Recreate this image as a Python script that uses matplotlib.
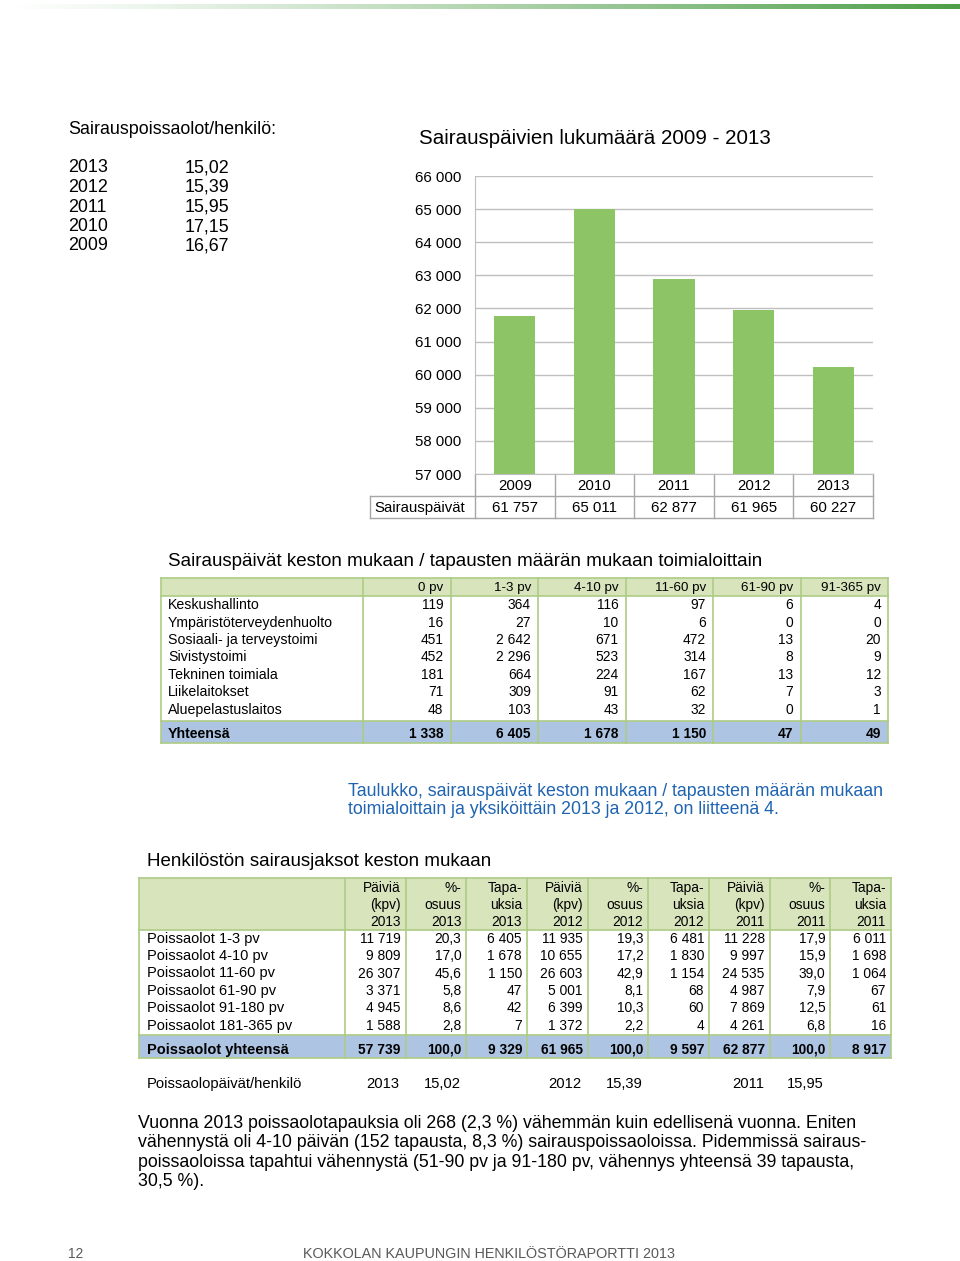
import numpy as np
import matplotlib
matplotlib.use('Agg')
import matplotlib.pyplot as plt
from matplotlib import font_manager
from matplotlib.patches import Rectangle

# ---------------- data ----------------
pp_years = ['2013', '2012', '2011', '2010', '2009']
pp_values = ['15,02', '15,39', '15,95', '17,15', '16,67']

chart_years = ['2009', '2010', '2011', '2012', '2013']
sick_days = [61757, 65011, 62877, 61965, 60227]
y_ticks = [57000, 58000, 59000, 60000, 61000, 62000, 63000, 64000, 65000, 66000]

t1_columns = ['0 pv', '1-3 pv', '4-10 pv', '11-60 pv', '61-90 pv', '91-365 pv']
t1_units = ['Keskushallinto', 'Ympäristöterveydenhuolto', 'Sosiaali- ja terveystoimi',
            'Sivistystoimi', 'Tekninen toimiala', 'Liikelaitokset', 'Aluepelastuslaitos']
t1_values = [[119, 364, 116, 97, 6, 4],
             [16, 27, 10, 6, 0, 0],
             [451, 2642, 671, 472, 13, 20],
             [452, 2296, 523, 314, 8, 9],
             [181, 664, 224, 167, 13, 12],
             [71, 309, 91, 62, 7, 3],
             [48, 103, 43, 32, 0, 1]]
t1_total_label = 'Yhteensä'
t1_total = [1338, 6405, 1678, 1150, 47, 49]

t2_columns = ['Päiviä\n(kpv)\n2013', '%-\nosuus\n2013', 'Tapa-\nuksia\n2013',
              'Päiviä\n(kpv)\n2012', '%-\nosuus\n2012', 'Tapa-\nuksia\n2012',
              'Päiviä\n(kpv)\n2011', '%-\nosuus\n2011', 'Tapa-\nuksia\n2011']
t2_rows = ['Poissaolot 1-3 pv', 'Poissaolot 4-10 pv', 'Poissaolot 11-60 pv',
           'Poissaolot 61-90 pv', 'Poissaolot 91-180 pv', 'Poissaolot 181-365 pv']
days_2013 = [11719, 9809, 26307, 3371, 4945, 1588]
share_2013 = [20.3, 17.0, 45.6, 5.8, 8.6, 2.8]
cases_2013 = [6405, 1678, 1150, 47, 42, 7]
days_2012 = [11935, 10655, 26603, 5001, 6399, 1372]
share_2012 = [19.3, 17.2, 42.9, 8.1, 10.3, 2.2]
cases_2012 = [6481, 1830, 1154, 68, 60, 4]
days_2011 = [11228, 9997, 24535, 4987, 7869, 4261]
share_2011 = [17.9, 15.9, 39.0, 7.9, 12.5, 6.8]
cases_2011 = [6011, 1698, 1064, 67, 61, 16]
t2_total_label = 'Poissaolot yhteensä'
t2_totals = [57739, 100.0, 9329, 61965, 100.0, 9597, 62877, 100.0, 8917]

pd_label = 'Poissaolopäivät/henkilö'
pd_years = ['2013', '2012', '2011']
pd_values = ['15,02', '15,39', '15,95']

paragraph = ['Vuonna 2013 poissaolotapauksia oli 268 (2,3 %) vähemmän kuin edellisenä vuonna. Eniten',
             'vähennystä oli 4-10 päivän (152 tapausta, 8,3 %) sairauspoissaoloissa. Pidemmissä sairaus-',
             'poissaoloissa tapahtui vähennystä (51-90 pv ja 91-180 pv, vähennys yhteensä 39 tapausta,',
             '30,5 %).']

# ---------------- style ----------------
names = {f.name for f in font_manager.fontManager.ttflist}
SANS = 'Liberation Sans'
HAS_NARROW = 'Liberation Sans Narrow' in names
NARROW = 'Liberation Sans Narrow' if HAS_NARROW else SANS
NS = 1.0 if HAS_NARROW else 0.9

GREEN_FILL = '#D8E4BC'
GREEN_LINE = '#ADCB85'
BLUE_FILL = '#ADC5E3'
BAR = '#8DC465'
GRID = '#BFBFBF'
CAPTION = '#1F64B0'


def fmt_int(v):
    return f'{v:,}'.replace(',', ' ')


def fmt_dec(v):
    return f'{v:.1f}'.replace('.', ',')


W, H = 960, 1261
fig = plt.figure(figsize=(W / 100, H / 100), dpi=100)
page = fig.add_axes([0, 0, 1, 1])
page.set_xlim(0, W)
page.set_ylim(H, 0)
page.axis('off')

# top gradient rule
grad = np.linspace(0, 1, 400)
rgba = np.zeros((1, 400, 4))
rgba[..., 0] = 0.30
rgba[..., 1] = 0.62
rgba[..., 2] = 0.28
rgba[..., 3] = grad ** 1.2
page.imshow(rgba, extent=(0, W, 9, 4), aspect='auto', interpolation='bilinear', zorder=1)
page.set_xlim(0, W)
page.set_ylim(H, 0)


def T(x, y, s, size, ha='left', va='center', family=SANS, **kw):
    dy = 2 if size > 12 else 0
    page.text(x, y + dy, s, fontsize=size, ha=ha, va=va, family=family, **kw)


# ---------------- left block ----------------
T(68, 128, 'Sairauspoissaolot/henkilö:', 12.9)
for i, (yr, val) in enumerate(zip(pp_years, pp_values)):
    T(68, 166 + i * 19.5, yr, 12.9)
    T(185, 166 + i * 19.5, val, 12.9)

# ---------------- bar chart ----------------
T(419, 136, 'Sairauspäivien lukumäärä 2009 - 2013', 14.8)
cx0, cx1, cy_top, cy_bot = 475, 873, 176, 474
ax = fig.add_axes([cx0 / W, 1 - cy_bot / H, (cx1 - cx0) / W, (cy_bot - cy_top) / H])
xpos = np.arange(len(chart_years))
ax.bar(xpos, sick_days, width=0.52, color=BAR, zorder=3)
ax.set_xlim(-0.5, len(chart_years) - 0.5)
ax.set_ylim(y_ticks[0], y_ticks[-1])
ax.set_yticks(y_ticks)
ax.set_yticklabels([fmt_int(v) for v in y_ticks], fontsize=10.8, family=SANS)
ax.yaxis.grid(True, color=GRID, lw=1, zorder=0)
ax.tick_params(axis='y', length=0, pad=10)
ax.set_xticks([])
for s in ['top', 'right']:
    ax.spines[s].set_visible(False)
for s in ['left', 'bottom']:
    ax.spines[s].set_color(GRID)
ax.set_facecolor('none')

# data table under chart
cw = (cx1 - cx0) / len(chart_years)
r1, r2, r3 = 474, 496, 518
lc = '#A6A6A6'
page.plot([cx0, cx1], [r2, r2], color=lc, lw=1)
page.plot([370, cx1], [r3, r3], color=lc, lw=1)
page.plot([370, cx0], [r2, r2], color=lc, lw=1)
page.plot([370, 370], [r2, r3], color=lc, lw=1)
for i in range(len(chart_years) + 1):
    page.plot([cx0 + i * cw] * 2, [r1, r3], color=lc, lw=1)
for i, (yr, v) in enumerate(zip(chart_years, sick_days)):
    xc = cx0 + (i + 0.5) * cw
    T(xc, 486, yr, 10.8, ha='center')
    T(xc, 508, fmt_int(v), 10.8, ha='center')
T(374, 508, 'Sairauspäivät', 10.8)

# ---------------- table 1 ----------------
T(168, 560, 'Sairauspäivät keston mukaan / tapausten määrän mukaan toimialoittain', 13.5)
tx0, tlab, tx1 = 161, 363, 888
tcw = (tx1 - tlab) / len(t1_columns)
top, hb, bb, tb = 578, 596, 721, 743
rh = 17.4
page.add_patch(Rectangle((tx0, top), tx1 - tx0, hb - top, facecolor=GREEN_FILL, edgecolor='none', zorder=1))
page.add_patch(Rectangle((tx0, bb), tx1 - tx0, tb - bb, facecolor=BLUE_FILL, edgecolor='none', zorder=1))
for yy in [top, hb, bb, tb]:
    page.plot([tx0, tx1], [yy, yy], color=GREEN_LINE, lw=1.2, zorder=2)
page.plot([tx0, tx0], [top, tb], color=GREEN_LINE, lw=1.2, zorder=2)
for j in range(len(t1_columns) + 1):
    page.plot([tlab + j * tcw] * 2, [top, tb], color=GREEN_LINE, lw=1.2, zorder=2)
for j, c in enumerate(t1_columns):
    T(tlab + (j + 1) * tcw - 7, 588, c, 10.2 * NS * 1.05, ha='right', family=NARROW)
for i, (u, vals) in enumerate(zip(t1_units, t1_values)):
    yc = hb + rh * (i + 0.5) + 0.5
    T(168, yc, u, 10.2)
    for j, v in enumerate(vals):
        T(tlab + (j + 1) * tcw - 7, yc, fmt_int(v), 11 * NS, ha='right', family=NARROW)
T(168, 734, t1_total_label, 10.2, fontweight='bold')
for j, v in enumerate(t1_total):
    T(tlab + (j + 1) * tcw - 7, 734, fmt_int(v), 11 * NS, ha='right',
      family=NARROW, fontweight='bold')

# caption
T(348, 789, 'Taulukko, sairauspäivät keston mukaan / tapausten määrän mukaan', 12.8, color=CAPTION)
T(348, 808, 'toimialoittain ja yksiköittäin 2013 ja 2012, on liitteenä 4.', 12.8, color=CAPTION)

# ---------------- table 2 ----------------
T(147, 860, 'Henkilöstön sairausjaksot keston mukaan', 13.5)
ux0, ulab, ux1 = 139, 345, 891
ucw = (ux1 - ulab) / len(t2_columns)
utop, uhb, ubb, utb = 878, 930, 1035, 1058
page.add_patch(Rectangle((ux0, utop), ux1 - ux0, uhb - utop, facecolor=GREEN_FILL, edgecolor='none', zorder=1))
page.add_patch(Rectangle((ux0, ubb), ux1 - ux0, utb - ubb, facecolor=BLUE_FILL, edgecolor='none', zorder=1))
for yy in [utop, uhb, ubb, utb]:
    page.plot([ux0, ux1], [yy, yy], color=GREEN_LINE, lw=1.2, zorder=2)
page.plot([ux0, ux0], [utop, utb], color=GREEN_LINE, lw=1.2, zorder=2)
for j in range(len(t2_columns) + 1):
    page.plot([ulab + j * ucw] * 2, [utop, utb], color=GREEN_LINE, lw=1.2, zorder=2)
for j, c in enumerate(t2_columns):
    for k, line in enumerate(c.split('\n')):
        T(ulab + (j + 1) * ucw - 5, 888 + k * 17, line, 10.5 * NS * 1.05, ha='right', family=NARROW)

t2_cols_data = [days_2013, share_2013, cases_2013, days_2012, share_2012, cases_2012,
                days_2011, share_2011, cases_2011]
for i, lab in enumerate(t2_rows):
    yc = uhb + rh * (i + 0.5)
    T(147, yc, lab, 10.5)
    for j, col in enumerate(t2_cols_data):
        v = col[i]
        s = fmt_dec(v) if isinstance(v, float) else fmt_int(v)
        T(ulab + (j + 1) * ucw - 5, yc, s, 11 * NS, ha='right', family=NARROW)
T(147, 1050, t2_total_label, 10.5, fontweight='bold')
for j, v in enumerate(t2_totals):
    s = fmt_dec(v) if isinstance(v, float) else fmt_int(v)
    T(ulab + (j + 1) * ucw - 5, 1050, s, 11 * NS, ha='right', family=NARROW, fontweight='bold')

# per-person line
pd_size = 11.8 * NS
T(147, 1084, pd_label, pd_size, family=NARROW)
for k, (yr, val) in enumerate(zip(pd_years, pd_values)):
    T(399 + k * 182.5, 1084, yr, pd_size, ha='right', family=NARROW)
    T(424 + k * 181.5, 1084, val, pd_size, family=NARROW)

# paragraph
par_size = 14.2 * NS
for k, line in enumerate(paragraph):
    T(138, 1121 + k * 19.6, line, par_size, family=NARROW)

# footer
T(68, 1254, '12', 11 * NS, family=NARROW, color='#595959')
T(489, 1254, 'KOKKOLAN KAUPUNGIN HENKILÖSTÖRAPORTTI 2013', 11.55 * NS, ha='center',
  family=NARROW, color='#595959')

fig.savefig('out.png', dpi=100)
